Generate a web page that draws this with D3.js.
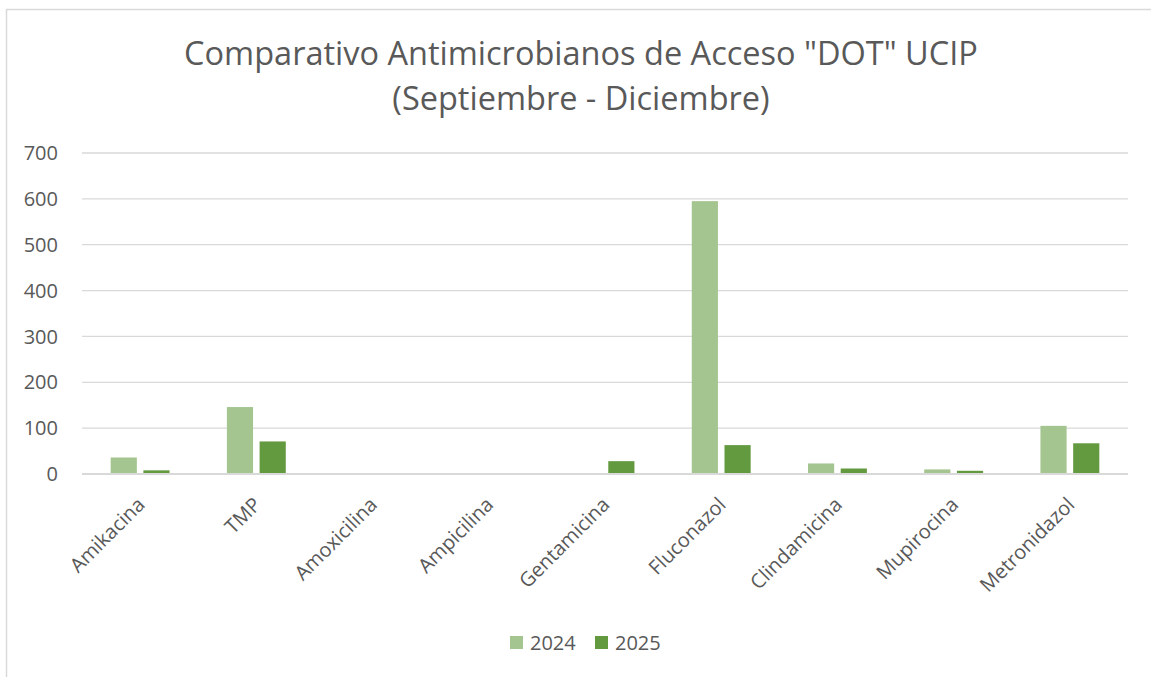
<!DOCTYPE html>
<html>
<head>
<meta charset="utf-8">
<script src="https://cdn.jsdelivr.net/npm/d3@7"></script>
<style>
  body { margin: 0; background: #fff; }
  text { font-family: "Open Sans", sans-serif; fill: #595959; }
</style>
</head>
<body>
<div class="chart"></div>
<script>
var width = 1151, height = 677;
var margin = {top: 153, right: 23, bottom: 203, left: 82};

// data
var categories = ['Amikacina', 'TMP', 'Amoxicilina', 'Ampicilina', 'Gentamicina',
  'Fluconazol', 'Clindamicina', 'Mupirocina', 'Metronidazol'];
var series = ['2024', '2025'];
var values2024 = [36, 146, 0, 0, 0, 595, 23, 10, 105];
var values2025 = [8, 71, 0, 0, 28, 63, 12, 7, 67];
var yTicks = [0, 100, 200, 300, 400, 500, 600, 700];
var titleLines = ['Comparativo Antimicrobianos de Acceso "DOT" UCIP', '(Septiembre - Diciembre)'];
var colors = {'2024': '#a4c590', '2025': '#639a3f'};

var rows = categories.map((c, i) => ({cat: c, '2024': values2024[i], '2025': values2025[i]}));

var svg = d3.select('.chart')
  .append('svg')
  .attr('width', width)
  .attr('height', height);

// chart border
svg.append('rect')
  .attr('x', 6.5).attr('y', 9.5)
  .attr('width', width + 10).attr('height', height + 10)
  .style('fill', 'none')
  .style('stroke', '#d9d9d9')
  .style('stroke-width', 1.5);

// scales
var x0 = d3.scaleBand()
  .domain(categories)
  .range([margin.left, width - margin.right]);

var groupW = x0.bandwidth() * 2.25 / 4.44;
var x1 = d3.scaleBand()
  .domain(series)
  .range([-groupW / 2, groupW / 2])
  .paddingInner(0.2);

var y = d3.scaleLinear()
  .domain([0, 700])
  .range([474, 153]);

// gridlines
svg.append('g')
  .selectAll('line')
  .data(yTicks.filter(d => d > 0))
  .enter()
  .append('line')
  .attr('x1', margin.left).attr('x2', width - margin.right)
  .attr('y1', d => y(d)).attr('y2', d => y(d))
  .style('stroke', '#d9d9d9')
  .style('stroke-width', 1.3);

// y labels
svg.append('g')
  .selectAll('text')
  .data(yTicks)
  .enter()
  .append('text')
  .attr('x', 58)
  .attr('y', d => y(d))
  .attr('dy', '0.36em')
  .style('text-anchor', 'end')
  .style('font-size', '20px')
  .text(d => d);

// bars
var groups = svg.append('g')
  .selectAll('g')
  .data(rows)
  .enter()
  .append('g')
  .attr('transform', d => `translate(${x0(d.cat) + x0.bandwidth() / 2}, 0)`);

groups.selectAll('rect')
  .data(d => series.map(s => ({s: s, v: d[s]})))
  .enter()
  .append('rect')
  .attr('x', d => x1(d.s))
  .attr('width', x1.bandwidth())
  .attr('y', d => y(d.v))
  .attr('height', d => y(0) - y(d.v))
  .style('fill', d => colors[d.s]);

// x axis line
svg.append('line')
  .attr('x1', margin.left).attr('x2', width - margin.right)
  .attr('y1', y(0)).attr('y2', y(0))
  .style('stroke', '#d9d9d9')
  .style('stroke-width', 2);

// x labels
svg.append('g')
  .selectAll('text')
  .data(categories)
  .enter()
  .append('text')
  .attr('transform', d => `translate(${x0(d) + x0.bandwidth() / 2 - 4}, 496) rotate(-45)`)
  .attr('dy', '0.7em')
  .style('text-anchor', 'end')
  .style('font-size', '20px')
  .text(d => d);

// title
svg.append('g')
  .selectAll('text')
  .data(titleLines)
  .enter()
  .append('text')
  .attr('x', 581)
  .attr('y', (d, i) => 65 + i * 45)
  .style('text-anchor', 'middle')
  .style('font-size', '32.5px')
  .text(d => d);

// legend
var legend = svg.append('g')
  .selectAll('g')
  .data(series)
  .enter()
  .append('g')
  .attr('transform', (d, i) => `translate(${510 + i * 85}, 636)`);

legend.append('rect')
  .attr('width', 13).attr('height', 13)
  .style('fill', d => colors[d]);

legend.append('text')
  .attr('x', 20).attr('y', 6.5)
  .attr('dy', '0.36em')
  .style('font-size', '20px')
  .text(d => d);
</script>
</body>
</html>
